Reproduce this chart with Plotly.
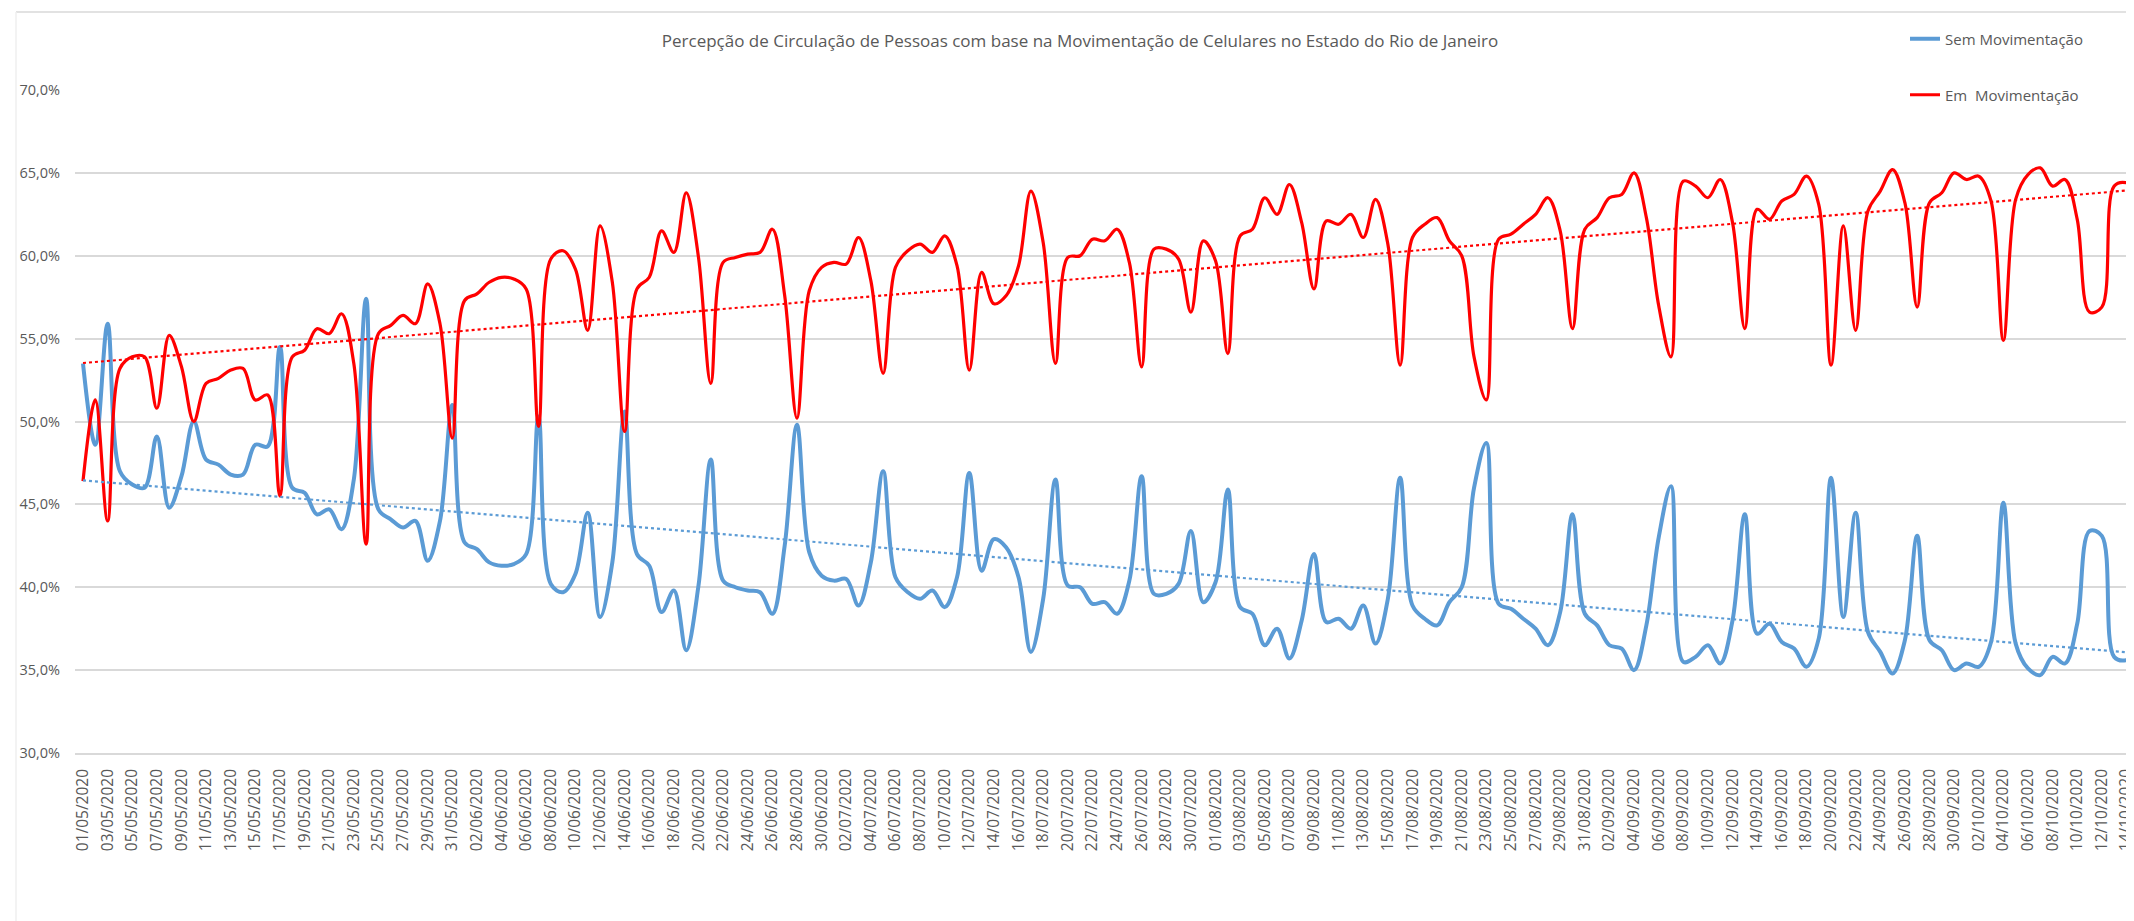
import numpy as np
import pandas as pd
import plotly.graph_objects as go

# ---- data -------------------------------------------------------------
dates = pd.date_range("2020-05-01", "2020-10-15", freq="D")
categories = [d.strftime("%d/%m/%Y") for d in dates]

sem_movimentacao = [
    53.5, 48.6, 55.9, 47.0, 46.2, 46.0, 49.1, 44.8, 46.7, 50.0,
    47.7, 47.4, 46.8, 46.8, 48.6, 48.5, 54.5, 46.0, 45.7, 44.4,
    44.7, 43.5, 46.5, 57.4, 44.7, 44.1, 43.6, 44.0, 41.6, 44.0,
    51.0, 42.7, 42.3, 41.5, 41.3, 41.4, 42.0, 50.3, 40.2, 39.7,
    40.8, 44.5, 38.2, 41.5, 50.6, 42.0, 41.3, 38.5, 39.8, 36.2,
    40.1, 47.7, 40.4, 40.0, 39.8, 39.7, 38.4, 42.5, 49.8, 42.1,
    40.7, 40.4, 40.5, 38.9, 41.5, 47.0, 40.6, 39.7, 39.3, 39.8,
    38.8, 40.6, 46.9, 41.0, 42.9, 42.4, 40.6, 36.1, 39.3, 46.5,
    40.1, 40.0, 39.0, 39.1, 38.4, 40.4, 46.7, 39.6, 39.6, 40.2,
    43.4, 39.1, 40.3, 45.9, 38.8, 38.4, 36.5, 37.5, 35.7, 38.0,
    42.0, 37.9, 38.1, 37.5, 38.9, 36.6, 39.3, 46.6, 38.9, 38.1,
    37.7, 39.1, 40.0, 46.0, 48.7, 39.0, 38.7, 38.1, 37.5, 36.5,
    38.5, 44.4, 38.4, 37.7, 36.5, 36.3, 35.0, 37.7, 43.0, 46.1,
    35.5, 35.8, 36.5, 35.4, 38.0, 44.4, 37.2, 37.8, 36.7, 36.3,
    35.2, 36.9, 46.6, 38.2, 44.5, 37.3, 36.1, 34.8, 36.8, 43.1,
    36.8, 36.2, 35.0, 35.4, 35.2, 36.7, 45.1, 36.6, 35.1, 34.7,
    35.8, 35.4, 37.8, 43.4, 43.1, 35.8, 35.6, 36.2,
]

em_movimentacao = [
    46.4, 51.3, 44.0, 53.2, 53.9, 53.9, 50.8, 55.2, 53.3, 50.0,
    52.3, 52.6, 53.1, 53.2, 51.3, 51.6, 45.5, 53.9, 54.3, 55.6,
    55.3, 56.5, 53.5, 42.6, 55.3, 55.8, 56.4, 55.9, 58.3, 55.9,
    49.0, 57.3, 57.7, 58.4, 58.7, 58.6, 58.0, 49.7, 59.8, 60.3,
    59.2, 55.5, 61.8, 58.4, 49.4, 58.0, 58.7, 61.5, 60.2, 63.8,
    59.9, 52.3, 59.6, 59.9, 60.1, 60.2, 61.6, 57.6, 50.2, 57.9,
    59.3, 59.6, 59.5, 61.1, 58.5, 52.9, 59.3, 60.3, 60.7, 60.2,
    61.2, 59.4, 53.1, 59.0, 57.1, 57.6, 59.4, 63.9, 60.8, 53.5,
    59.9, 60.0, 61.0, 60.9, 61.6, 59.6, 53.3, 60.4, 60.4, 59.8,
    56.6, 60.9, 59.7, 54.1, 61.2, 61.6, 63.5, 62.5, 64.3, 62.0,
    58.0, 62.1, 61.9, 62.5, 61.1, 63.4, 60.7, 53.4, 61.1, 61.9,
    62.3, 60.9, 60.0, 53.9, 51.3, 61.0, 61.3, 61.9, 62.5, 63.5,
    61.5, 55.6, 61.6, 62.3, 63.5, 63.7, 65.0, 62.3, 57.0, 53.9,
    64.5, 64.2, 63.5, 64.6, 62.0, 55.6, 62.8, 62.2, 63.3, 63.7,
    64.8, 63.1, 53.4, 61.8, 55.5, 62.7, 63.9, 65.2, 63.2, 56.9,
    63.2, 63.8, 65.0, 64.6, 64.8, 63.3, 54.9, 63.4, 64.9, 65.3,
    64.2, 64.6, 62.2, 56.6, 56.9, 64.2, 64.4, 63.8,
]

y_ticks = [30, 35, 40, 45, 50, 55, 60, 65, 70]
y_tick_labels = ["30,0%", "35,0%", "40,0%", "45,0%", "50,0%", "55,0%", "60,0%", "65,0%", "70,0%"]

TITLE = "Percepção de Circulação de Pessoas com base na Movimentação de Celulares no Estado do Rio de Janeiro"

# ---- styling ----------------------------------------------------------
BLUE = "#5B9BD5"
RED = "#FF0000"
GRID = "#D9D9D9"
TXT = "#595959"
FONT = "Open Sans, Noto Sans, sans-serif"

W, H = 2134, 921
ML, MR, MT, MB = 67, 0, 82, 176

idx = np.arange(len(categories))
fit_sem = np.polyval(np.polyfit(idx, sem_movimentacao, 1), idx)
fit_em = np.polyval(np.polyfit(idx, em_movimentacao, 1), idx)

fig = go.Figure()
fig.add_trace(go.Scatter(x=idx, y=sem_movimentacao, mode="lines", name="Sem Movimentação",
                         line=dict(color=BLUE, width=4, shape="spline", smoothing=1.0),
                         legend="legend"))
fig.add_trace(go.Scatter(x=idx, y=em_movimentacao, mode="lines", name="Em  Movimentação",
                         line=dict(color=RED, width=3.2, shape="spline", smoothing=1.0),
                         legend="legend2"))
fig.add_trace(go.Scatter(x=idx, y=fit_sem, mode="lines", showlegend=False, hoverinfo="skip",
                         line=dict(color=BLUE, width=2.2, dash="dot")))
fig.add_trace(go.Scatter(x=idx, y=fit_em, mode="lines", showlegend=False, hoverinfo="skip",
                         line=dict(color=RED, width=2.2, dash="dot")))

plot_w = W - ML - MR
plot_h = H - MT - MB


def px_to_paper_x(px):
    return (px - ML) / plot_w


def px_to_paper_y(py):
    return (H - MB - py) / plot_h


fig.update_layout(
    width=W, height=H,
    margin=dict(l=ML, r=MR, t=MT, b=MB, pad=0),
    paper_bgcolor="white", plot_bgcolor="white",
    font=dict(family=FONT, color=TXT, size=15),
    title=dict(text=TITLE, x=px_to_paper_x(1072), xref="paper", xanchor="center",
               y=1 - 33 / H, yanchor="middle",
               font=dict(family=FONT, size=17, color=TXT)),
    xaxis=dict(
        range=[-0.65, (W - 75) / 12.31],
        tickmode="array",
        tickvals=idx[::2].tolist(),
        ticktext=categories[::2],
        tickangle=-90,
        tickfont=dict(size=15.5, color=TXT),
        showgrid=False, zeroline=False,
        showline=True, linecolor=GRID, linewidth=1.5,
        ticks="", ticklabelstandoff=8,
    ),
    yaxis=dict(
        range=[30, 70],
        tickmode="array", tickvals=y_ticks, ticktext=y_tick_labels,
        tickfont=dict(size=14.5, color=TXT),
        showgrid=True, gridcolor=GRID, gridwidth=1.5,
        zeroline=False, showline=False, ticks="", ticklabelstandoff=14,
    ),
    legend=dict(x=px_to_paper_x(1897), y=px_to_paper_y(31), xanchor="left", yanchor="middle",
                font=dict(size=15, color=TXT), bgcolor="rgba(0,0,0,0)", borderwidth=0),
    legend2=dict(x=px_to_paper_x(1897), y=px_to_paper_y(87), xanchor="left", yanchor="middle",
                 font=dict(size=15, color=TXT), bgcolor="rgba(0,0,0,0)", borderwidth=0),
    shapes=[
        dict(type="line", xref="paper", yref="paper",
             x0=px_to_paper_x(8), x1=px_to_paper_x(W + 5), y0=px_to_paper_y(4), y1=px_to_paper_y(4),
             line=dict(color=GRID, width=1.5)),
        dict(type="line", xref="paper", yref="paper",
             x0=px_to_paper_x(8), x1=px_to_paper_x(8), y0=px_to_paper_y(4), y1=px_to_paper_y(H + 5),
             line=dict(color="#EFEFEF", width=1.5)),
    ],
)

fig.write_html("out.html")
